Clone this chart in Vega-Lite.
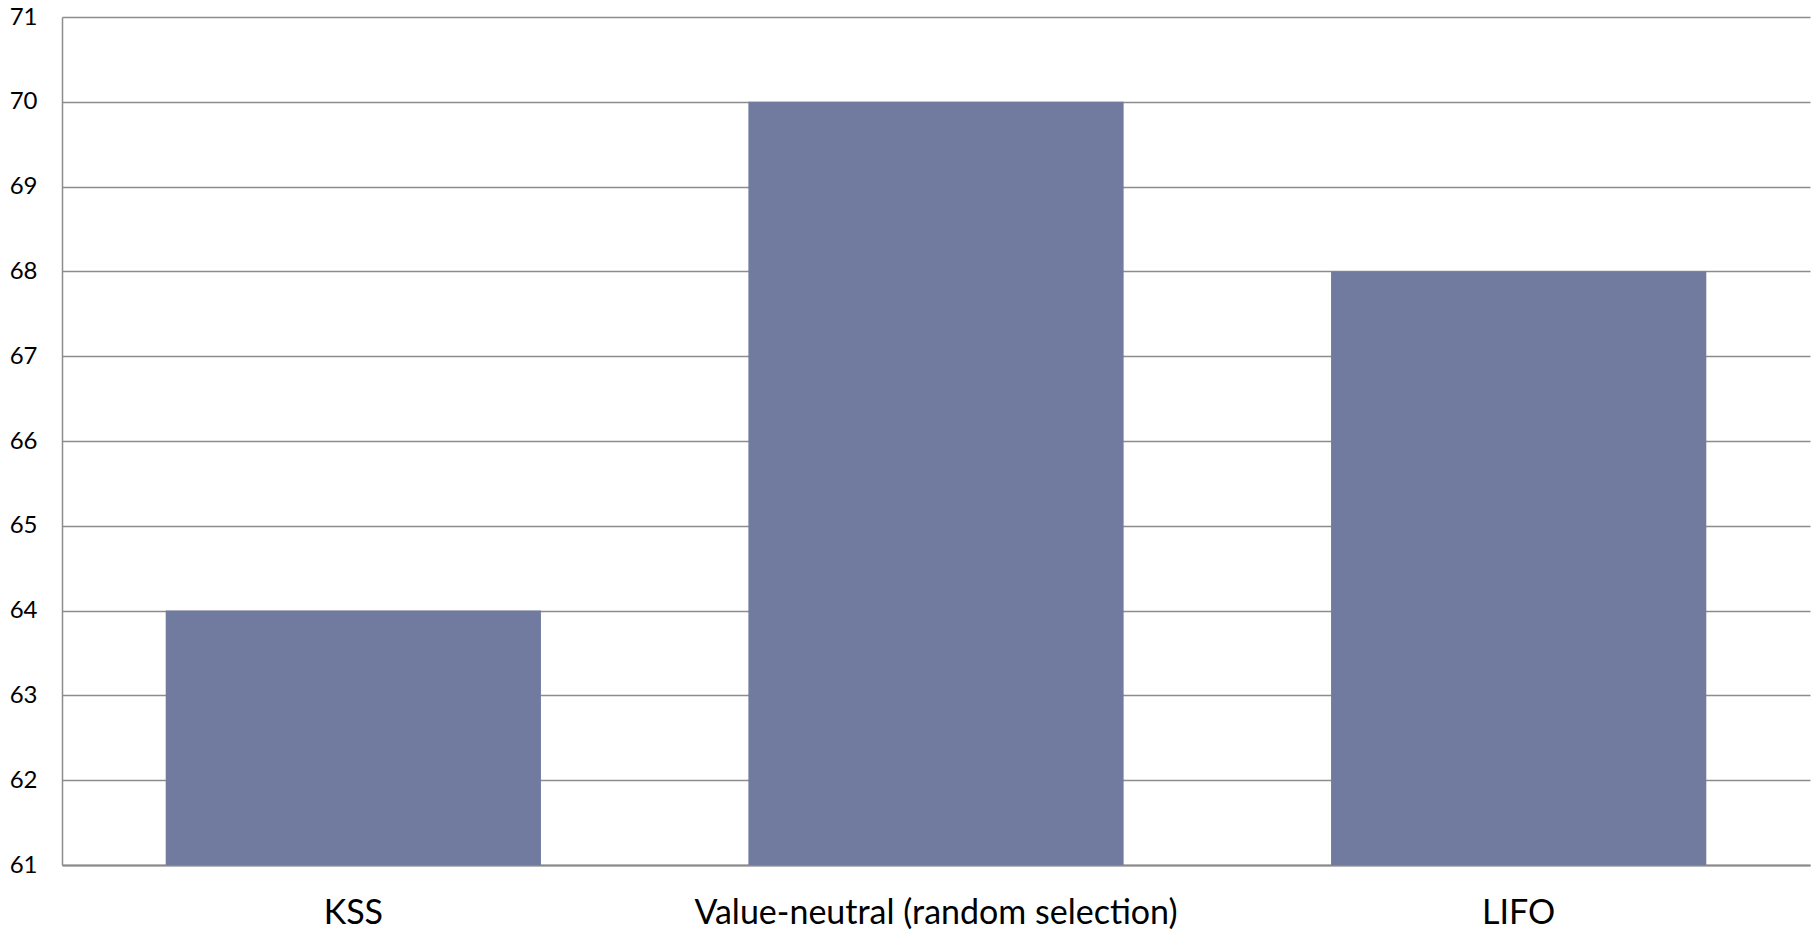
{
  "$schema": "https://vega.github.io/schema/vega-lite/v6.json",
  "width": 1748,
  "height": 848,
  "autosize": {"type": "none"},
  "padding": {"left": 62, "top": 17, "right": 8, "bottom": 65},
  "background": "white",
  "config": {
    "view": {"stroke": null},
    "font": "Lato"
  },
  "data": {
    "values": [
      {"method": "KSS", "value": 64},
      {"method": "Value-neutral (random selection)", "value": 70},
      {"method": "LIFO", "value": 68}
    ]
  },
  "mark": {"type": "bar", "color": "#717BA0", "clip": true},
  "encoding": {
    "x": {
      "field": "method",
      "type": "nominal",
      "sort": null,
      "title": null,
      "scale": {"paddingInner": 0.356, "paddingOuter": 0.178},
      "axis": {
        "labelAngle": 0,
        "labelFont": "Lato",
        "labelFontSize": 34,
        "labelColor": "#000000",
        "labelBaseline": "alphabetic",
        "labelPadding": 58,
        "labelLimit": 0,
        "ticks": false,
        "tickSize": 0,
        "domainColor": "#8a8a8a",
        "domainWidth": 2,
        "grid": false
      }
    },
    "y": {
      "field": "value",
      "type": "quantitative",
      "title": null,
      "scale": {"domain": [61, 71], "nice": false, "zero": false},
      "axis": {
        "values": [61, 62, 63, 64, 65, 66, 67, 68, 69, 70, 71],
        "labelFont": "Lato",
        "labelFontSize": 24,
        "labelColor": "#000000",
        "labelPadding": 25,
        "ticks": false,
        "tickSize": 0,
        "domainColor": "#8c8c8c",
        "domainWidth": 1.5,
        "gridColor": "#8c8c8c",
        "gridWidth": 1.3,
        "zindex": 0
      }
    }
  }
}
